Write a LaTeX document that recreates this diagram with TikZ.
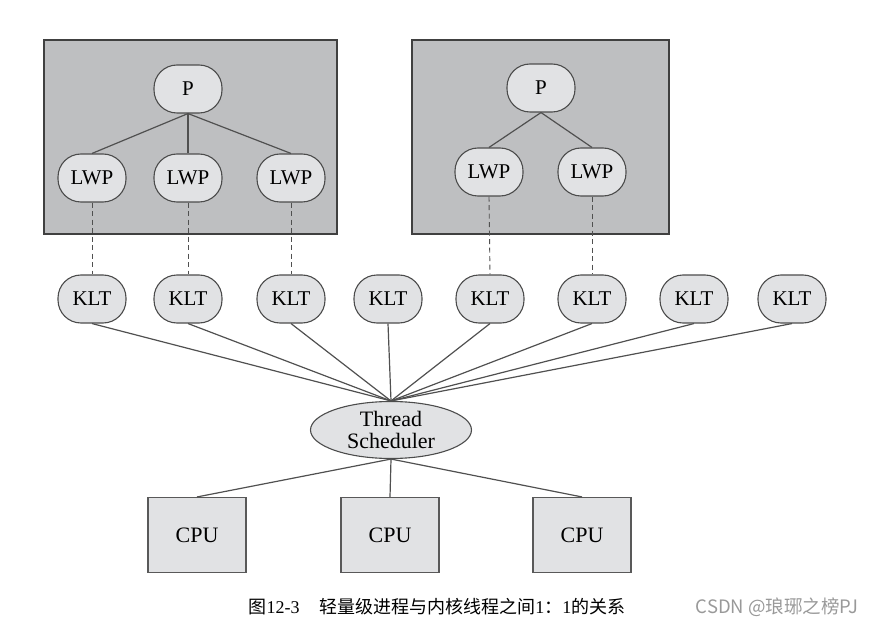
\documentclass[tikz,border=0pt]{standalone}
\usepackage{fontspec}
\setmainfont{Liberation Serif}
\newfontfamily\cjk{Noto Sans CJK SC}
\usepackage{xcolor}
\usetikzlibrary{shapes.geometric}
\definecolor{procgray}{HTML}{BEBFC1}
\definecolor{nodegray}{HTML}{E1E2E4}
\definecolor{edgegray}{HTML}{505050}
\begin{document}
\begin{tikzpicture}[x=1pt, y=-1pt,
  every node/.style={font=\fontsize{21}{22}\selectfont},
  proc/.style={draw=black!75, line width=1.2pt, fill=procgray},
  pill/.style={draw=black!70, line width=1.1pt, fill=nodegray, rounded corners=23pt,
    minimum width=68pt, minimum height=48pt, inner sep=0pt},
  cpu/.style={draw=black!65, line width=1.1pt, fill=nodegray,
    minimum width=98pt, minimum height=75pt, inner sep=0pt, font=\fontsize{22}{22}\selectfont},
  edge/.style={draw=edgegray, line width=1.2pt},
  link/.style={draw=edgegray, line width=0.9pt, dash pattern=on 5pt off 3.5pt}]
  \useasboundingbox (0,0) rectangle (872,628);
  % process boxes
  \draw[proc] (44,40) rectangle (337,234);
  \draw[proc] (412,40) rectangle (669,234);
  \node[pill] (p1) at (188,89) {P};
  \node[pill] (p2) at (541,88) {P};
  \foreach \i/\x in {1/92, 2/188, 3/291}
    \node[pill] (lwp\i) at (\x,178) {LWP};
  \foreach \i/\x in {4/489, 5/592}
    \node[pill] (lwp\i) at (\x,172) {LWP};
  % kernel threads
  \foreach \i/\x in {1/92, 2/188, 3/291, 4/388, 5/490, 6/592, 7/694, 8/792}
    \node[pill] (klt\i) at (\x,299) {KLT};
  \node[draw=black!70, line width=1.1pt, fill=nodegray, ellipse, minimum width=161pt,
    minimum height=57pt, inner sep=0pt, align=center,
    font=\fontsize{22}{22}\selectfont] (sched) at (391,430) {Thread\\Scheduler};
  \foreach \i/\x in {1/197, 2/390, 3/582}
    \node[cpu] (cpu\i) at (\x,535) {CPU};
  % edges
  \foreach \i in {1,2,3} \draw[edge] (p1.south) -- (lwp\i.north);
  \foreach \i in {4,5} \draw[edge] (p2.south) -- (lwp\i.north);
  \foreach \a/\b in {1/1, 2/2, 3/3, 4/5, 5/6}
    \draw[link] (lwp\a.south) -- (klt\b.north);
  \foreach \i in {1,...,8} \draw[edge] (klt\i.south) -- (sched.north);
  \foreach \i in {1,2,3} \draw[edge] (sched.south) -- (cpu\i.north);
  % caption and mark
  \node[font=\fontsize{18}{18}\selectfont, anchor=west] (cap) at (245,607)
    {{\cjk 图}12-3\hspace{1.1em}{\cjk 轻量级进程与内核线程之间}1{\cjk ：}1{\cjk 的关系}};
  \node[font=\fontsize{18.5}{18.5}\selectfont\cjk, text=black!40, anchor=east] (mark) at (862,607)
    {CSDN @琅琊之榜PJ};
\end{tikzpicture}
\end{document}
